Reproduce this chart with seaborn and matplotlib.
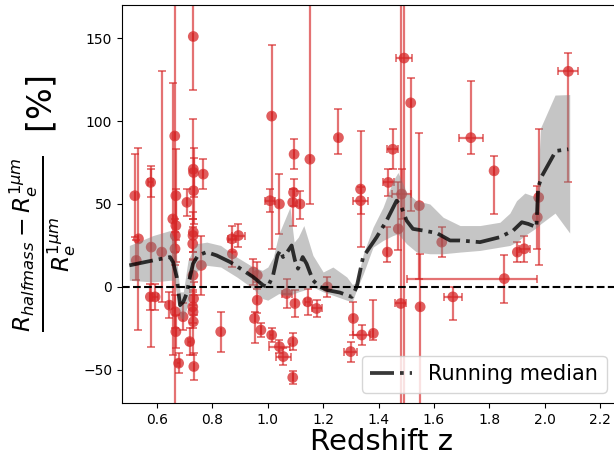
import numpy as np
import matplotlib
matplotlib.use("Agg")
import matplotlib.pyplot as plt
import seaborn as sns

# ---- data points: redshift, difference [%], asymmetric errors ----
z = [0.520, 0.525, 0.533, 0.577, 0.579, 0.576, 0.593, 0.617, 0.645, 0.664,
     0.657, 0.668, 0.668, 0.666, 0.665, 0.666, 0.668, 0.678, 0.694, 0.708,
     0.718, 0.731, 0.731, 0.732, 0.732, 0.731, 0.730, 0.729, 0.730, 0.732,
     0.729, 0.730, 0.731, 0.733, 0.767, 0.760, 0.830, 0.870, 0.872, 0.894,
     0.952, 0.962, 0.948, 0.962, 0.975, 1.014, 1.014, 1.008, 1.042, 1.042,
     1.056, 1.068, 1.090, 1.090, 1.095, 1.093, 1.090, 1.098, 1.116, 1.144,
     1.152, 1.176, 1.215, 1.255, 1.299, 1.309, 1.335, 1.335, 1.339, 1.381,
     1.432, 1.435, 1.451, 1.471, 1.483, 1.492, 1.480, 1.516, 1.547, 1.550,
     1.628, 1.668, 1.733, 1.817, 1.854, 1.901, 1.926, 1.978, 1.973, 2.085]
diff = [55, 16, 29, 63, 24, -6, -6, 21, -11, 91,
        41, 55, 37, 31, 23, -15, -27, -46, -18, 51,
        -33, 151, 71, 69, 58, 33, 31, 26, 7, -7,
        -12, -15, -21, -48, 68, 13, -27, 29, 20, 31,
        -19, -8, 9, 7, -26, -29, 103, 52, 50, -36,
        -42, -4, -33, -54.6, 80, 57, 51, -10, 50, -9,
        77, -13, 0, 90, -39, -19, 59, 52, -29, -28,
        21, 63, 83, 35, 56, 138, -10, 111, 49, -12,
        27, -6, 90, 70, 5, 21, 23, 54, 42, 130]
err_lo = [25, 12, 55, 9, 60, 8, 8, 30, 8, 190,
          82, 27, 22, 10, 10, 10, 10, 6, 8, 8,
          8, 32, 30, 15, 20, 12, 10, 10, 10, 10,
          10, 10, 20, 8, 9, 18, 12, 8, 8, 7,
          15, 8, 8, 8, 4, 4, 80, 7, 18, 4,
          5, 9, 5, 4, 9, 8, 14, 8, 9, 8,
          27, 5, 6, 10, 6, 10, 35, 8, 6, 4,
          6, 8, 12, 13, 15, 220, 70, 65, 44, 70,
          9, 14, 10, 26, 14.5, 6, 8, 41, 19, 67]
err_hi = [25, 12, 55, 10, 47, 8, 8, 109, 8, 190,
          82, 28, 22, 10, 10, 10, 10, 6, 8, 8,
          8, 32, 30, 15, 20, 12, 10, 10, 10, 10,
          10, 10, 10, 8, 9, 18, 12, 8, 8, 7,
          4, 11, 8, 8, 4, 4, 43, 7, 18, 4,
          5, 9, 5, 4, 9, 8, 8, 8, 8, 8,
          100, 5, 6, 17, 6, 10, 35, 8, 6, 20,
          15, 8, 12, 28, 15, 60, 190, 15, 44, 32,
          9, 6, 34, 9, 14.5, 6, 8, 41, 19, 11]
zerr_lo = [0, 0, 0, 0.01, 0, 0, 0.01, 0, 0, 0,
           0, 0, 0, 0, 0, 0, 0, 0.005, 0, 0,
           0.005, 0, 0, 0, 0, 0, 0, 0, 0, 0,
           0, 0, 0, 0, 0, 0, 0, 0.015, 0, 0.024,
           0, 0, 0, 0, 0, 0.005, 0, 0.018, 0, 0.039,
           0.027, 0.018, 0, 0, 0, 0, 0, 0, 0, 0.01,
           0, 0.018, 0, 0, 0.024, 0, 0, 0.028, 0.03, 0,
           0, 0.019, 0.019, 0, 0.033, 0.03, 0.02, 0, 0, 0,
           0, 0.033, 0.044, 0, 0.353, 0, 0.02, 0, 0, 0.036]
zerr_hi = [0, 0, 0, 0.01, 0, 0, 0.01, 0, 0, 0,
           0, 0, 0, 0, 0, 0, 0, 0.005, 0, 0,
           0.005, 0, 0, 0, 0, 0, 0, 0, 0, 0,
           0, 0, 0, 0, 0, 0, 0, 0.015, 0, 0.024,
           0, 0, 0, 0, 0, 0.005, 0, 0.018, 0, 0.039,
           0.027, 0.018, 0, 0, 0, 0, 0, 0, 0, 0.01,
           0, 0.018, 0, 0, 0.024, 0, 0, 0.028, 0.03, 0,
           0, 0.019, 0.019, 0, 0.033, 0.03, 0.02, 0, 0, 0,
           0, 0.033, 0.044, 0, 0.117, 0, 0.02, 0, 0, 0.036]

# ---- running median ----
med_z = [0.50, 0.586, 0.647, 0.658, 0.671, 0.683, 0.695, 0.707, 0.719, 0.73,
         0.748, 0.779, 0.815, 0.864, 0.911, 0.947, 0.983, 1.0, 1.019, 1.035,
         1.045, 1.055, 1.07, 1.086, 1.098, 1.109, 1.126, 1.14, 1.163, 1.188,
         1.217, 1.26, 1.303, 1.321, 1.344, 1.393, 1.429, 1.465, 1.483, 1.501,
         1.524, 1.561, 1.61, 1.658, 1.694, 1.766, 1.838, 1.886, 1.917, 1.94,
         1.97, 1.976, 1.99, 2.04, 2.085]
med_v = [13, 16, 18, 15, 6, -11, -9, -4, 6, 14,
         19, 21, 19, 15, 10, 6, 1, 0, 7, 19,
         22, 18, 21, 25, 16, 11, 18, 14, 4, 0,
         -2, -3.4, -6, 0, 18, 30, 40, 52, 48, 40,
         35, 34, 32.5, 28, 28, 27, 30, 34, 39, 38,
         36, 60, 67, 82, 83]

band_z = [0.50, 0.586, 0.647, 0.66, 0.672, 0.683, 0.695, 0.712, 0.74, 0.78,
          0.83, 0.888, 0.947, 0.98, 1.0, 1.02, 1.04, 1.06, 1.08, 1.095,
          1.11, 1.13, 1.163, 1.2, 1.235, 1.285, 1.305, 1.32, 1.345, 1.38,
          1.416, 1.452, 1.47, 1.501, 1.537, 1.585, 1.633, 1.694, 1.766, 1.838,
          1.874, 1.898, 1.928, 1.955, 1.972, 1.985, 2.037, 2.09]
band_lo = [4, 3, 4, 4, -5, -18, -20, -10, 9, 13,
           12, 6, -1, -7, -8, -6, -4, -5, -5, -4,
           -3, -2, 0, -3, -5, -8, -9, -2, 8, 24,
           28, 31, 32, 26, 21, 20, 20, 21, 22, 24,
           25, 27, 31, 34, 36, 38, 44.5, 32.5]
band_hi = [25, 31, 34, 30, 15, -3, -3, 16, 26, 27,
           25, 18, 12, 10, 12, 18, 32, 40, 48, 27,
           30, 37, 19, 9, 12, 6, 1.5, 2.4, 20, 36,
           48, 64, 69, 57, 52, 50, 42, 37, 37, 39,
           44.5, 52, 56.6, 55, 54, 96, 115.7, 116]

red = "#d62728"

fig = plt.figure(figsize=(6.14, 4.55), dpi=100)
ax = fig.add_axes([122 / 614, 1 - 403 / 455, (642 - 122) / 614, (403 - 5) / 455])

ax.errorbar(z, diff, yerr=[err_lo, err_hi], xerr=[zerr_lo, zerr_hi], fmt="none",
            ecolor=red, elinewidth=1.6, capsize=3, capthick=1.3, alpha=0.65, zorder=2)
sns.scatterplot(x=z, y=diff, ax=ax, color=red, s=60, alpha=0.75, edgecolor="none", zorder=2.5)

ax.fill_between(band_z, band_lo, band_hi, color="gray", alpha=0.45, lw=0, zorder=3)
sns.lineplot(x=med_z, y=med_v, ax=ax, color="k", alpha=0.78, lw=2.7, linestyle="-.",
             sort=False, estimator=None, label="Running median", zorder=4)
ax.axhline(0, color="k", ls="--", lw=1.5, zorder=5)

ax.set_xlim(0.4736, 2.351)
ax.set_ylim(-70, 170)
ax.set_xticks([0.6, 0.8, 1.0, 1.2, 1.4, 1.6, 1.8, 2.0, 2.2])
ax.set_yticks([-50, 0, 50, 100, 150])
ax.tick_params(labelsize=10)
ax.set_xlabel("Redshift z", fontsize=21, labelpad=1)
ax.set_ylabel(r"$\frac{R_{halfmass} - R_e^{1\mu m}}{R_e^{1\mu m}}$  [%]", fontsize=24, labelpad=4)
ax.legend(loc="lower right", bbox_to_anchor=(0.952, 0.0), fontsize=15)

fig.savefig("out.png", dpi=100)
